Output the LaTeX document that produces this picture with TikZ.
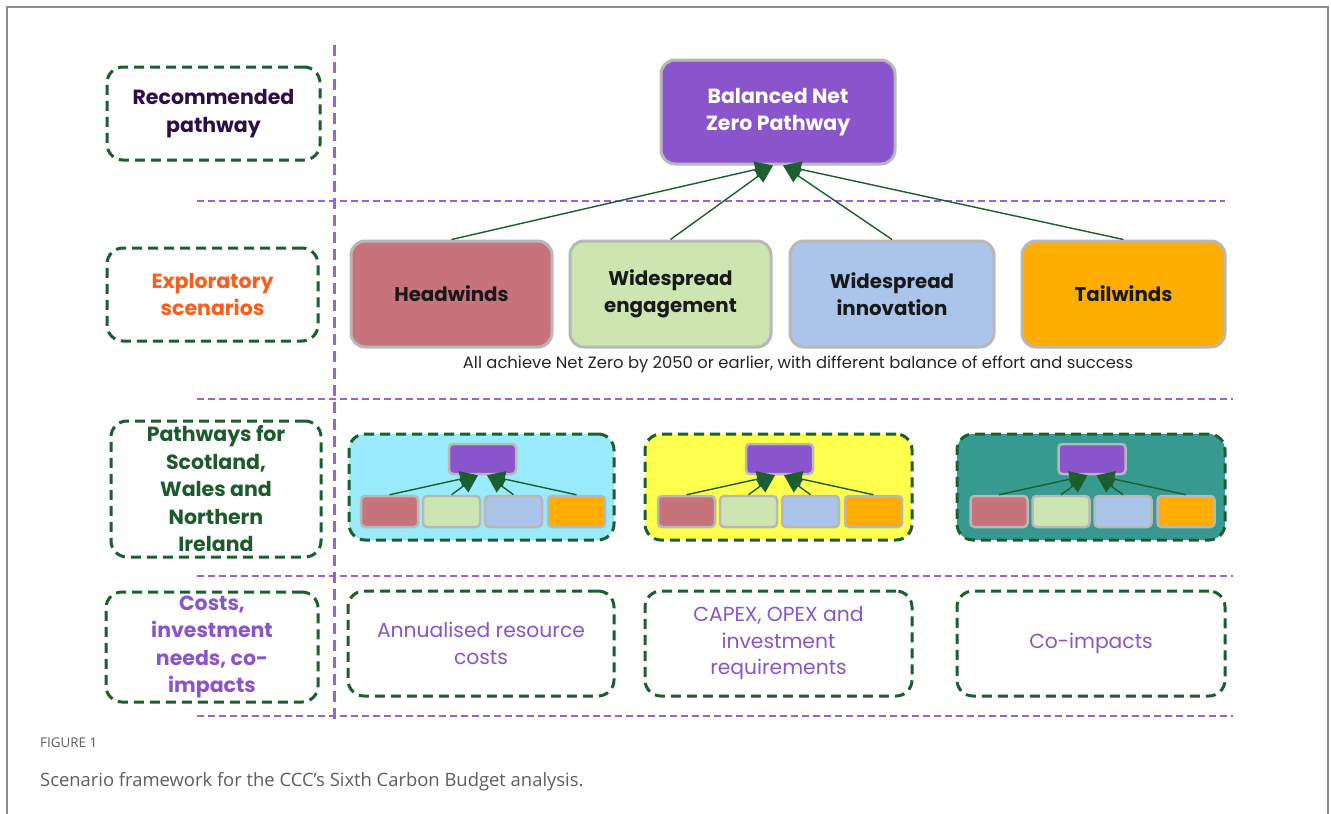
\documentclass[tikz,border=0pt]{standalone}
\usepackage{fontspec}
\setmainfont{Poppins}
\newfontfamily\capfont{Open Sans}
\usetikzlibrary{arrows.meta,calc}
\definecolor{bnzpurple}{HTML}{8A55CC}
\definecolor{bgray}{HTML}{B8B8B8}
\definecolor{hwred}{HTML}{C8737B}
\definecolor{wegreen}{HTML}{CDE6B1}
\definecolor{wiblue}{HTML}{AAC4EA}
\definecolor{tworange}{HTML}{FFAD00}
\definecolor{dgreen}{HTML}{1B5E30}
\definecolor{pcyan}{HTML}{99EAFB}
\definecolor{pyellow}{HTML}{FFFF4D}
\definecolor{pteal}{HTML}{369A90}
\definecolor{recpurple}{HTML}{2B0E4A}
\definecolor{explorange}{HTML}{FF5B1A}
\definecolor{pathgreen}{HTML}{1D5A2D}
\definecolor{divpurple}{HTML}{9B62D6}
\definecolor{capgray}{HTML}{5E5E5E}
\definecolor{framegray}{HTML}{8C8C8C}
\begin{document}
\begin{tikzpicture}[x=1pt,y=-1pt,
  labelbox/.style={draw=dgreen, line width=3pt, dash pattern=on 10pt off 6pt, rounded corners=16pt, align=center, inner sep=0pt, font=\bfseries\fontsize{20.5}{27.5}\selectfont},
  costbox/.style={draw=dgreen, fill=white, line width=3pt, dash pattern=on 10pt off 6pt, rounded corners=16pt, align=center, inner sep=0pt, text=bnzpurple, font=\fontsize{20.3}{26.5}\selectfont, minimum height=105pt},
  panel/.style={draw=dgreen, line width=3pt, dash pattern=on 10pt off 6pt, rounded corners=16pt, inner sep=0pt, minimum height=106pt},
  scen/.style={draw=bgray, line width=3pt, rounded corners=14pt, align=center, inner sep=0pt, minimum height=106pt, text=black!90, font=\bfseries\fontsize{19.8}{27}\selectfont},
  mini/.style={draw=bgray, line width=2.5pt, rounded corners=4pt, inner sep=0pt, minimum width=57pt, minimum height=31pt},
  conn/.style={draw=dgreen, line width=1.4pt, -{Triangle[length=18pt,width=16pt]}},
  hdiv/.style={draw=divpurple, line width=1.1pt, dash pattern=on 7pt off 4pt},
  vdiv/.style={draw=divpurple, line width=3pt, dash pattern=on 11pt off 6pt}
]
\useasboundingbox (0,0) rectangle (1331,814);
\fill[white] (0,0) rectangle (1331,814);
\draw[framegray, line width=1.5pt] (7,814) -- (7,7) -- (1328,7) -- (1328,814);

% dividers
\draw[vdiv] (334,45) -- (334,722);
\draw[hdiv] (197,201) -- (1225,201);
\draw[hdiv] (197,399) -- (1233,399);
\draw[hdiv] (197,576) -- (1233,576);
\draw[hdiv] (197,716) -- (1233,716);

% left labels
\node[labelbox, text=recpurple, minimum width=213pt, minimum height=93pt] (rec) at (213.5,113.5) {Recommended\\pathway};
\node[labelbox, text=explorange, minimum width=211pt, minimum height=93pt] (expl) at (212.5,294.5) {Exploratory\\scenarios};
\node[labelbox, text=pathgreen, minimum width=210pt, minimum height=136pt] (path) at (216,489) {Pathways for\\Scotland,\\Wales and\\Northern\\Ireland};
\node[labelbox, text=bnzpurple, minimum width=212pt, minimum height=110pt] (cost) at (212,647) {Costs,\\investment\\needs, co-\\impacts};

% top pathway
\node[scen, fill=bnzpurple, text=white, minimum width=234pt, minimum height=104pt, font=\bfseries\fontsize{20.5}{27}\selectfont] (bnz) at (778,112) {Balanced Net\\Zero Pathway};

% scenarios
\node[scen, fill=hwred, minimum width=201pt] (hw) at (451.5,294) {Headwinds};
\node[scen, fill=wegreen, minimum width=201pt] (we) at (670.5,294) {Widespread\\engagement};
\node[scen, fill=wiblue, minimum width=204pt] (wi) at (892,294) {Widespread\\innovation};
\node[scen, fill=tworange, minimum width=203pt] (tw) at (1123.5,294) {Tailwinds};

\draw[conn] (hw.north) -- ([xshift=-5pt]bnz.south);
\draw[conn] (we.north) -- ([xshift=-5pt]bnz.south);
\draw[conn] (wi.north) -- ([xshift=5pt]bnz.south);
\draw[conn] (tw.north) -- ([xshift=5pt]bnz.south);

\node[font=\fontsize{16.4}{20}\selectfont, text=black!85] (note) at (798,364) {All achieve Net Zero by 2050 or earlier, with different balance of effort and success};

% panels
\foreach \i/\cx/\w/\col in {1/481.5/265/pcyan, 2/778.5/267/pyellow, 3/1091/268/pteal} {
  \node[panel, fill=\col, minimum width=\w pt] (p\i) at (\cx,487) {};
  \node[mini, fill=bnzpurple, minimum width=67pt, minimum height=30pt] (p\i t) at (\cx+1,459) {};
  \node[mini, fill=hwred] (p\i a) at (\cx-92,511.5) {};
  \node[mini, fill=wegreen] (p\i b) at (\cx-30,511.5) {};
  \node[mini, fill=wiblue] (p\i c) at (\cx+32,511.5) {};
  \node[mini, fill=tworange] (p\i d) at (\cx+95,511.5) {};
  \draw[conn] (p\i a.north) -- ([xshift=-4.5pt]p\i t.south);
  \draw[conn] (p\i b.north) -- ([xshift=-4.5pt]p\i t.south);
  \draw[conn] (p\i c.north) -- ([xshift=4.5pt]p\i t.south);
  \draw[conn] (p\i d.north) -- ([xshift=4.5pt]p\i t.south);
}

% cost boxes
\node[costbox, minimum width=266pt] (c1) at (481,643.5) {Annualised resource\\costs};
\node[costbox, minimum width=267pt] (c2) at (778.5,643.5) {CAPEX, OPEX and\\investment\\requirements};
\node[costbox, minimum width=268pt] (c3) at (1091,643.5) {Co-impacts};

% caption
\node[anchor=base west, inner sep=0pt, text=capgray, font=\capfont\fontsize{13.4}{15}\selectfont] (fig) at (40,747) {FIGURE 1};
\node[anchor=base west, inner sep=0pt, text=capgray, font=\capfont\fontsize{18.4}{21}\selectfont] (cap) at (40,786) {Scenario framework for the CCC’s Sixth Carbon Budget analysis.};
\end{tikzpicture}
\end{document}
